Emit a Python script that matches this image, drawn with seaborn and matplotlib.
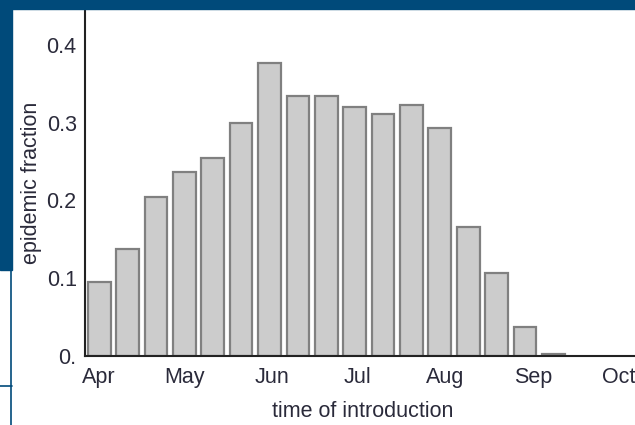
import matplotlib
matplotlib.use("Agg")
import matplotlib.pyplot as plt
import seaborn as sns
import pandas as pd

# day of introduction (days after 1 Apr), one bar every 10 days
intro_day = [0, 10, 20, 30, 40, 50, 60, 70, 80, 90, 100, 110, 120, 130, 140, 150, 160]
epidemic_fraction = [0.095, 0.137, 0.205, 0.236, 0.254, 0.300, 0.377, 0.334, 0.334,
                     0.320, 0.311, 0.322, 0.293, 0.166, 0.107, 0.037, 0.002]

month_labels = ['Apr', 'May', 'Jun', 'Jul', 'Aug', 'Sep', 'Oct']
month_days = [0, 30, 61, 91, 122, 153, 183]

df = pd.DataFrame({'day': intro_day, 'fraction': epidemic_fraction})

sns.set_style("white")
plt.rcParams['font.family'] = ['Liberation Sans', 'DejaVu Sans']

fig = plt.figure(figsize=(6.35, 4.25), dpi=100)
ax = fig.add_axes([85 / 635, 1 - 356 / 425, 1 - 85 / 635 + 0.01, (356 - 9) / 425])

sns.barplot(data=df, x='day', y='fraction', native_scale=True, width=0.8,
            color='#cccccc', edgecolor='#808080', linewidth=1.6, saturation=1, ax=ax)

ax.set_xlim(-5, 191)
ax.set_ylim(0, 0.446)
ax.set_xticks(month_days)
ax.set_xticklabels(month_labels)
ax.set_yticks([0, 0.1, 0.2, 0.3, 0.4])
ax.set_yticklabels(['0.', '0.1', '0.2', '0.3', '0.4'])
ax.tick_params(axis='both', direction='in', length=6, width=1.3, colors='#222222',
               labelsize=15.5, labelcolor='#2a2a3a')
ax.tick_params(axis='x', pad=8)
ax.tick_params(axis='y', pad=6)
ax.set_xlabel('time of introduction', fontsize=15.5, color='#2a2a3a', labelpad=9)
ax.set_ylabel('epidemic fraction', fontsize=15.5, color='#2a2a3a', labelpad=3)

for side in ['top', 'right']:
    ax.spines[side].set_visible(False)
for side in ['left', 'bottom']:
    ax.spines[side].set_color('#222222')
    ax.spines[side].set_linewidth(1.5)

# slide frame around the pasted chart
blue = '#004a7a'
fig.patches.append(plt.Rectangle((0, 1 - 9 / 425), 1, 9 / 425, transform=fig.transFigure,
                                 color=blue, zorder=5))
fig.patches.append(plt.Rectangle((0, 1 - 270 / 425), 12 / 635, 270 / 425,
                                 transform=fig.transFigure, color=blue, zorder=5))
fig.lines.append(plt.Line2D([11 / 635, 11 / 635], [0, 1 - 270 / 425],
                            transform=fig.transFigure, color=blue, lw=1.2))
fig.lines.append(plt.Line2D([0, 12 / 635], [1 - 386 / 425, 1 - 386 / 425],
                            transform=fig.transFigure, color=blue, lw=1.2))

fig.savefig('out.png', dpi=100)
